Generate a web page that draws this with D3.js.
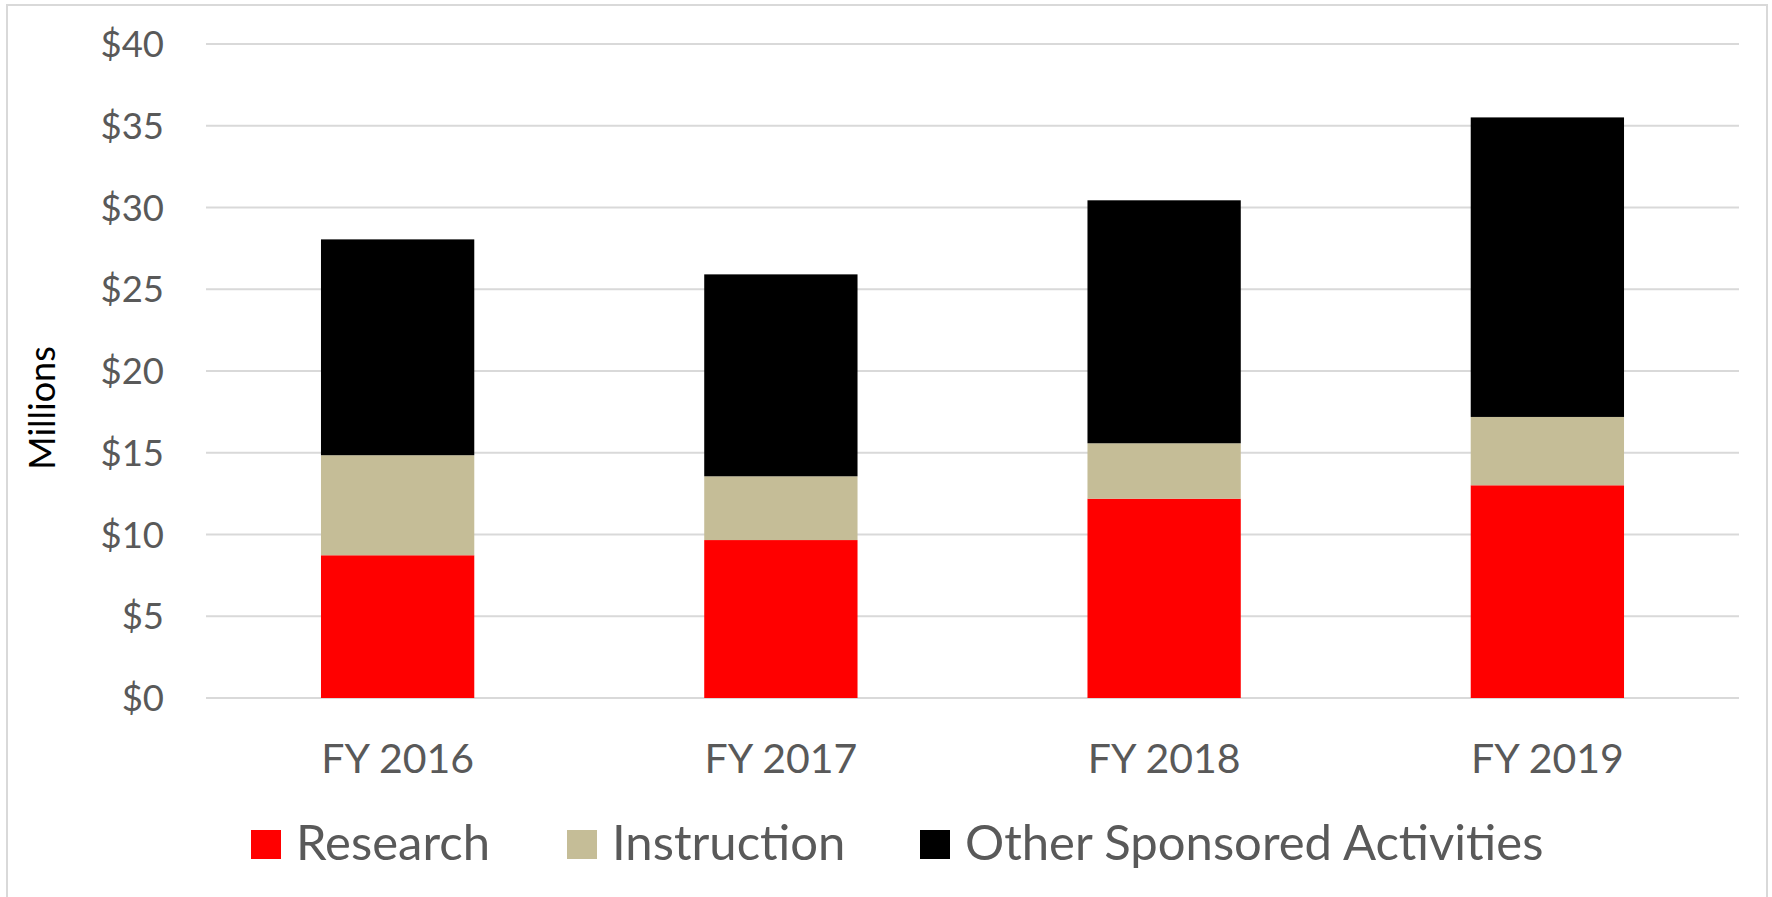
<!DOCTYPE html>
<html>
<head>
<meta charset="utf-8">
<script src="https://cdn.jsdelivr.net/npm/d3@7"></script>
<style>
  html, body { margin: 0; padding: 0; background: #fff; }
  svg { display: block; font-family: Lato, "Open Sans", sans-serif; }
</style>
</head>
<body>
<div id="container"></div>
<script>
const width = 1772, height = 897;

// --- Data (millions of dollars) ---
const years = ["FY 2016", "FY 2017", "FY 2018", "FY 2019"];
const research = [8.73, 9.66, 12.19, 13.01];
const instruction = [6.12, 3.90, 3.39, 4.18];
const otherSponsored = [13.20, 12.35, 14.86, 18.32];
const seriesNames = ["Research", "Instruction", "Other Sponsored Activities"];
const seriesColors = ["#FF0000", "#C5BD97", "#000000"];
const yTicks = [0, 5, 10, 15, 20, 25, 30, 35, 40];

const plot = { left: 206, right: 1739, top: 44, bottom: 698 };
const textGray = "#595959";
const gridColor = "#D9D9D9";

const rows = years.map((y, i) => ({
  year: y,
  "Research": research[i],
  "Instruction": instruction[i],
  "Other Sponsored Activities": otherSponsored[i]
}));
const stacked = d3.stack().keys(seriesNames)(rows);

const svg = d3.select("#container")
  .append("svg")
  .attr("width", width)
  .attr("height", height);

// chart-area border
svg.append("rect")
  .attr("x", 7).attr("y", 5)
  .attr("width", 1760).attr("height", 900)
  .attr("fill", "#fff")
  .attr("stroke", gridColor)
  .attr("stroke-width", 2);

const x = d3.scaleBand()
  .domain(years)
  .range([plot.left, plot.right])
  .paddingInner(0.6)
  .paddingOuter(0.3);

const y = d3.scaleLinear()
  .domain([0, 40])
  .range([plot.bottom, plot.top]);

// --- gridlines ---
svg.append("g").selectAll("line").data(yTicks).join("line")
  .attr("x1", plot.left).attr("x2", plot.right)
  .attr("y1", d => y(d)).attr("y2", d => y(d))
  .attr("stroke", gridColor)
  .attr("stroke-width", 2);

// --- y tick labels ---
svg.append("g").selectAll("text").data(yTicks).join("text")
  .attr("x", 164)
  .attr("y", d => y(d) + 13)
  .attr("text-anchor", "end")
  .attr("fill", textGray)
  .style("font-size", "36.5px")
  .text(d => "$" + d);

// --- stacked bars ---
svg.append("g").selectAll("g").data(stacked).join("g")
  .attr("fill", (d, i) => seriesColors[i])
  .selectAll("rect").data(d => d).join("rect")
  .attr("x", d => x(d.data.year))
  .attr("width", x.bandwidth())
  .attr("y", d => y(d[1]))
  .attr("height", d => y(d[0]) - y(d[1]));

// --- x labels ---
svg.append("g").selectAll("text").data(years).join("text")
  .attr("x", d => x(d) + x.bandwidth() / 2)
  .attr("y", 773)
  .attr("text-anchor", "middle")
  .attr("fill", textGray)
  .style("font-size", "41px")
  .text(d => d);

// --- y axis title ---
svg.append("text")
  .attr("transform", "translate(55, 408) rotate(-90)")
  .attr("text-anchor", "middle")
  .attr("fill", "#000")
  .style("font-size", "36px")
  .text("Millions");

// --- legend ---
const legendX = [251, 567, 920];
const legend = svg.append("g").selectAll("g").data(seriesNames).join("g")
  .attr("transform", (d, i) => `translate(${legendX[i]}, 830)`);
legend.append("rect")
  .attr("width", 30).attr("height", 29)
  .attr("fill", (d, i) => seriesColors[i]);
legend.append("text")
  .attr("x", 45).attr("y", 30)
  .attr("fill", textGray)
  .style("font-size", "49px")
  .text(d => d);
</script>
</body>
</html>
